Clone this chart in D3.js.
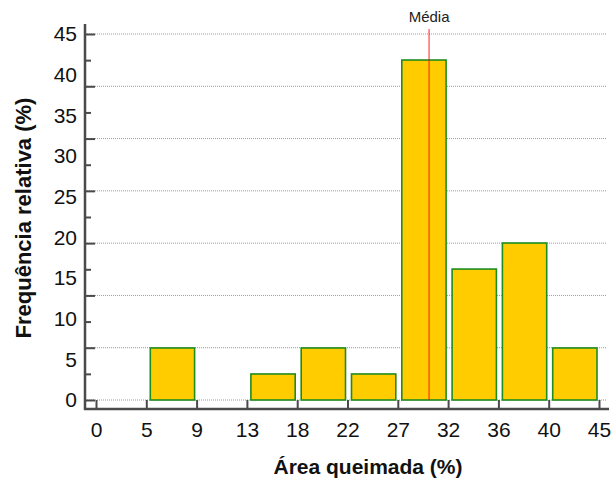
<!DOCTYPE html>
<html>
<head>
<meta charset="utf-8">
<script src="https://cdn.jsdelivr.net/npm/d3@7"></script>
<style>
  html, body { margin: 0; padding: 0; background: #fff; }
  svg { display: block; }
  text { font-family: "Liberation Sans", Arial, sans-serif; fill: #111; }
</style>
</head>
<body>
<div id="chart"></div>
<script>
// Class edges of the burned-area histogram (%)
const binEdges = [0, 4.5, 9, 13.5, 18, 22.5, 27, 31.5, 36, 40.5, 45];
// Relative frequency (%) of each class
const relFreq = [0, 6.4, 0, 3.2, 6.4, 3.2, 41.8, 16.1, 19.3, 6.4];
// Tick labels shown under the x axis
const xTickLabels = ["0", "5", "9", "13", "18", "22", "27", "32", "36", "40", "45"];
// Tick labels on the y axis
const yTickLabels = [0, 5, 10, 15, 20, 25, 30, 35, 40, 45];
// Mean burned area (%)
const meanValue = 29.8;

const W = 611, H = 481;
const svg = d3.select("#chart").append("svg").attr("width", W).attr("height", H);

const x = d3.scaleLinear().domain([0, 45]).range([96, 599]);
const y = d3.scaleLinear().domain([0, 45]).range([400, 34]);

const axisColor = "#4a4a4a";
const xAxisY = 409, yAxisX = 85, gridRight = 606;

// Grid / tick positions: seven equal divisions of the range, minor ticks between
const majorTicks = d3.range(8).map(i => 45 * i / 7);
const minorTicks = d3.range(7).map(i => 45 * (i + 0.5) / 7);

// dotted horizontal grid
svg.append("g").selectAll("line").data(majorTicks).join("line")
  .attr("x1", yAxisX + 2).attr("x2", gridRight)
  .attr("y1", d => y(d)).attr("y2", d => y(d))
  .attr("stroke", "#9a9a9a").attr("stroke-width", 1)
  .attr("stroke-dasharray", "1,1");

// histogram bars
const bins = relFreq.map((v, i) => ({ x0: binEdges[i], x1: binEdges[i + 1], v }))
  .filter(d => d.v > 0);
svg.append("g").selectAll("rect").data(bins).join("rect")
  .attr("x", d => x(d.x0) + 4)
  .attr("width", d => x(d.x1) - x(d.x0) - 6)
  .attr("y", d => y(d.v))
  .attr("height", d => y(0) - y(d.v))
  .attr("fill", "#ffcc00")
  .attr("stroke", "#1e8c1e").attr("stroke-width", 1.6);

// mean line
svg.append("line")
  .attr("x1", x(meanValue)).attr("x2", x(meanValue))
  .attr("y1", 29).attr("y2", y(0))
  .attr("stroke", "#ff0000").attr("stroke-opacity", 0.55).attr("stroke-width", 1.6);
svg.append("text")
  .attr("x", x(meanValue)).attr("y", 22)
  .attr("text-anchor", "middle")
  .style("font-size", "15px").style("fill", "#222")
  .text("Média");

// y axis: ticks pointing inward
const yTicks = svg.append("g").attr("transform", `translate(${yAxisX},0)`);
yTicks.call(d3.axisRight(y).tickValues(majorTicks).tickSize(10).tickFormat(""))
  .call(g => g.select(".domain").remove());
yTicks.append("g").call(d3.axisRight(y).tickValues(minorTicks).tickSize(6).tickFormat(""))
  .call(g => g.select(".domain").remove());
yTicks.selectAll(".tick line").attr("stroke", axisColor).attr("stroke-width", 2);

// y tick labels
svg.append("g").attr("transform", `translate(77,0)`)
  .call(d3.axisLeft(y).tickValues(yTickLabels).tickSize(0).tickPadding(0))
  .call(g => g.select(".domain").remove())
  .call(g => g.selectAll("text").style("font-size", "21px")
    .style("font-family", "'Liberation Sans', Arial, sans-serif").attr("fill", "#111"));

// x axis: ticks pointing up, labels below
const xTickVals = d3.range(11).map(i => i * 4.5);
svg.append("g").attr("transform", `translate(0,${xAxisY})`)
  .call(d3.axisBottom(x).tickValues(xTickVals).tickSizeInner(-9).tickSizeOuter(0)
    .tickPadding(13).tickFormat((d, i) => xTickLabels[i]))
  .call(g => g.select(".domain").remove())
  .call(g => g.selectAll(".tick line").attr("stroke", axisColor).attr("stroke-width", 2))
  .call(g => g.selectAll("text").style("font-size", "21px")
    .style("font-family", "'Liberation Sans', Arial, sans-serif").attr("fill", "#111"));

// axis lines
svg.append("line").attr("x1", yAxisX).attr("x2", yAxisX).attr("y1", 24).attr("y2", xAxisY + 1)
  .attr("stroke", axisColor).attr("stroke-width", 2.5);
svg.append("line").attr("x1", yAxisX - 1).attr("x2", 609).attr("y1", xAxisY).attr("y2", xAxisY)
  .attr("stroke", axisColor).attr("stroke-width", 2.5);

// axis titles
svg.append("text")
  .attr("x", 368).attr("y", 474)
  .attr("text-anchor", "middle")
  .style("font-size", "21px").style("font-weight", "bold")
  .text("Área queimada (%)");
svg.append("text")
  .attr("transform", "translate(31,218) rotate(-90)")
  .attr("text-anchor", "middle")
  .style("font-size", "22px").style("font-weight", "bold")
  .text("Frequência relativa (%)");
</script>
</body>
</html>
